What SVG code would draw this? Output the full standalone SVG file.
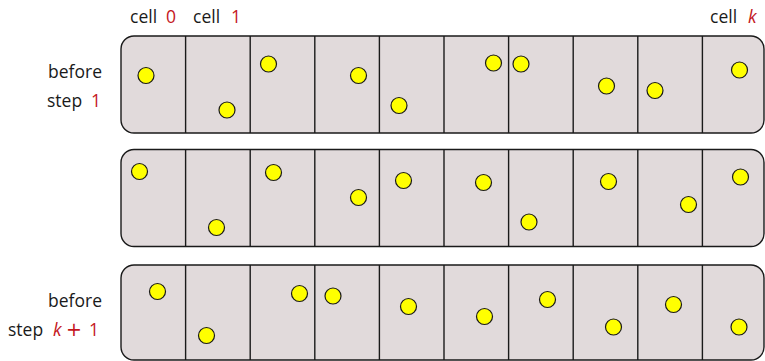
<svg xmlns="http://www.w3.org/2000/svg" width="765" height="361" viewBox="0 0 765 361">
<style>
.row{fill:#e1dadb;stroke:#1a1a1a;stroke-width:1.4}
.div{stroke:#1a1a1a;stroke-width:1.4}
.p{fill:#ffff00;stroke:#1a1a1a;stroke-width:1.2}
text{font-family:"Open Sans","DejaVu Sans",sans-serif;font-size:17.5px;fill:#1a1a1a}
.r{fill:#c4161c}
.i{font-style:italic}
.plus{font-family:"DejaVu Sans",sans-serif;font-size:19px}
</style>
<rect width="765" height="361" fill="#ffffff"/>
<g id="labels">
<text x="130" y="23">cell</text><text class="r" x="166" y="23">0</text>
<text x="193" y="23">cell</text><text class="r" x="231" y="23">1</text>
<text x="710" y="23">cell</text><text class="r i" x="748" y="23">k</text>
<text x="102" y="78" text-anchor="end">before</text>
<text x="47" y="107">step</text><text class="r" x="91" y="107">1</text>
<text x="102" y="307" text-anchor="end">before</text>
<text x="8" y="336">step</text><text class="r i" x="53" y="336">k</text><text class="r plus" x="66" y="336">+</text><text class="r" x="89" y="336">1</text>
</g>
<g id="row1">
<rect class="row" x="121" y="36" width="643" height="97" rx="13"/>
<g class="div">
<line x1="185.6" y1="36" x2="185.6" y2="133"/><line x1="250.2" y1="36" x2="250.2" y2="133"/><line x1="314.8" y1="36" x2="314.8" y2="133"/><line x1="379.4" y1="36" x2="379.4" y2="133"/><line x1="444" y1="36" x2="444" y2="133"/><line x1="508.6" y1="36" x2="508.6" y2="133"/><line x1="573.2" y1="36" x2="573.2" y2="133"/><line x1="637.8" y1="36" x2="637.8" y2="133"/><line x1="702.4" y1="36" x2="702.4" y2="133"/>
</g>
<g class="p">
<circle cx="146" cy="75.5" r="8"/><circle cx="227" cy="110" r="8"/><circle cx="268.5" cy="64" r="8"/><circle cx="358.5" cy="75.5" r="8"/><circle cx="399" cy="105.5" r="8"/><circle cx="493.5" cy="63" r="8"/><circle cx="521" cy="64" r="8"/><circle cx="606.5" cy="86" r="8"/><circle cx="655" cy="90.5" r="8"/><circle cx="739.5" cy="70" r="8"/>
</g>
</g>
<g id="row2">
<rect class="row" x="121" y="149.5" width="643" height="97" rx="13"/>
<g class="div">
<line x1="185.6" y1="149.5" x2="185.6" y2="246.5"/><line x1="250.2" y1="149.5" x2="250.2" y2="246.5"/><line x1="314.8" y1="149.5" x2="314.8" y2="246.5"/><line x1="379.4" y1="149.5" x2="379.4" y2="246.5"/><line x1="444" y1="149.5" x2="444" y2="246.5"/><line x1="508.6" y1="149.5" x2="508.6" y2="246.5"/><line x1="573.2" y1="149.5" x2="573.2" y2="246.5"/><line x1="637.8" y1="149.5" x2="637.8" y2="246.5"/><line x1="702.4" y1="149.5" x2="702.4" y2="246.5"/>
</g>
<g class="p">
<circle cx="139.5" cy="171.5" r="8"/><circle cx="216.5" cy="227.5" r="8"/><circle cx="273.5" cy="172.5" r="8"/><circle cx="358.5" cy="197.5" r="8"/><circle cx="403.5" cy="180.5" r="8"/><circle cx="483.5" cy="182.5" r="8"/><circle cx="529" cy="222" r="8"/><circle cx="608.5" cy="181.5" r="8"/><circle cx="688.5" cy="204.5" r="8"/><circle cx="740.5" cy="177" r="8"/>
</g>
</g>
<g id="row3">
<rect class="row" x="121" y="265" width="643" height="95" rx="13"/>
<g class="div">
<line x1="185.6" y1="265" x2="185.6" y2="360"/><line x1="250.2" y1="265" x2="250.2" y2="360"/><line x1="314.8" y1="265" x2="314.8" y2="360"/><line x1="379.4" y1="265" x2="379.4" y2="360"/><line x1="444" y1="265" x2="444" y2="360"/><line x1="508.6" y1="265" x2="508.6" y2="360"/><line x1="573.2" y1="265" x2="573.2" y2="360"/><line x1="637.8" y1="265" x2="637.8" y2="360"/><line x1="702.4" y1="265" x2="702.4" y2="360"/>
</g>
<g class="p">
<circle cx="157.5" cy="291.5" r="8"/><circle cx="206.5" cy="335.5" r="8"/><circle cx="299.5" cy="293.5" r="8"/><circle cx="333" cy="296" r="8"/><circle cx="408.5" cy="306.5" r="8"/><circle cx="484.5" cy="316.5" r="8"/><circle cx="547.5" cy="299.5" r="8"/><circle cx="613.5" cy="327" r="8"/><circle cx="673.5" cy="304.5" r="8"/><circle cx="739" cy="327" r="8"/>
</g>
</g>
</svg>
